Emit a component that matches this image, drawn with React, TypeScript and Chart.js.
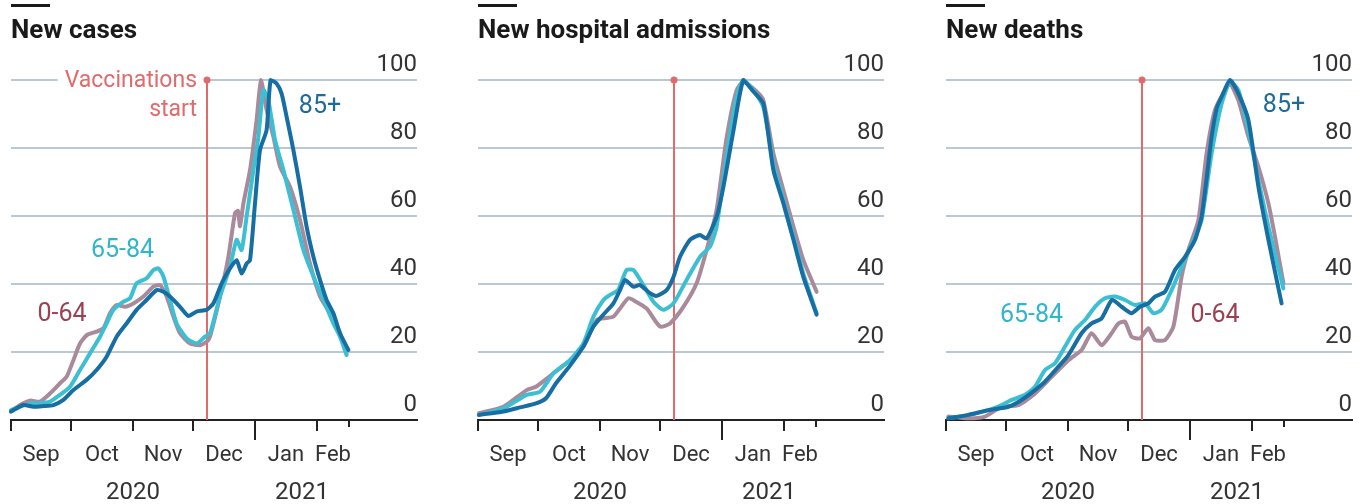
import React, { useEffect, useRef } from "react";
import { Chart, registerables } from "chart.js";

Chart.register(...registerables);

type Pt = [number, number];

// ---------- data (x = days since 1 Sep 2020, y = index, peak = 100) ----------
const panelTitles = ["New cases", "New hospital admissions", "New deaths"];
const seriesNames = ["0-64", "65-84", "85+"];

const monthTickDays = [0, 30, 61, 91, 122, 153];
const dataEndDay = 169;
const monthLabels = ["Sep", "Oct", "Nov", "Dec", "Jan", "Feb"];
const monthLabelDays = [15, 45.5, 76, 106.5, 137.5, 161];
const yearLabels = ["2020", "2021"];
const yearLabelDays = [61, 145.5];
const yearBoundaryDay = 122;
const vaccinationDay = 98;
const yTickValues = [0, 20, 40, 60, 80, 100];

const cases0to64: Pt[] = [
  [0, 2.5], [4.5, 4.4], [9.5, 5.7], [14.5, 5.4], [19.5, 7.8], [24.5, 10.8], [27.8, 12.7],
  [31.2, 17.6], [34.5, 22.5], [38, 25], [42.8, 26], [46.2, 27], [49.5, 31.4], [52.8, 33.8],
  [57, 33.3], [61.2, 34.3], [66.2, 36.3], [71.2, 39.2], [74.5, 39.7], [77.8, 36.3],
  [81.2, 30.4], [84.5, 25.5], [89.5, 22.5], [94.5, 22], [97.8, 23], [99.5, 24.5],
  [104.5, 36.3], [108.7, 48], [112, 60.8], [113.5, 61.5], [114.5, 57], [116.2, 63.7],
  [119.5, 73.5], [122.8, 88.2], [125, 100], [127.8, 91.2], [131.2, 83.3], [134.5, 74.5],
  [139.5, 68.6], [144.5, 58.8], [149.5, 46], [154.5, 36.3], [159.5, 31.4], [164.5, 25.5],
  [167.8, 19.6],
];
const cases65to84: Pt[] = [
  [0, 2.9], [9.5, 4.9], [14.5, 4.9], [19.5, 5.4], [24.5, 7.4], [29.5, 9.8], [34.5, 14.7],
  [39.5, 19.6], [44.5, 24.5], [47.8, 28.4], [51.2, 32.4], [56.2, 34.8], [59.5, 35.8],
  [62.8, 40.2], [67.8, 41.7], [71.2, 44.1], [73.7, 44.6], [76.2, 42.2], [79.5, 35.3],
  [82.8, 28.4], [87.8, 24], [92.8, 22.5], [97, 24.5], [99.5, 25.5], [104.5, 36.3],
  [109.5, 45], [112.8, 53], [115.3, 50], [117.8, 59.8], [121.2, 73.5], [123.7, 83.3],
  [126.2, 97], [128.7, 94], [132, 82.4], [136.2, 73.5], [141.2, 61.8], [146.2, 50],
  [151.2, 42.2], [156.2, 35.3], [161.2, 28.4], [164.5, 24.5], [167.8, 19.1],
];
const cases85plus: Pt[] = [
  [0, 2.5], [6.2, 4.4], [11.2, 3.9], [16.2, 4.1], [21.2, 4.4], [26.2, 5.9], [31.2, 8.8],
  [37.8, 11.8], [42.8, 14.7], [47.8, 18.6], [52.8, 24.5], [57.8, 28.4], [62.8, 32.4],
  [67.8, 35.3], [72.8, 38.2], [76.2, 37.7], [79.5, 36.3], [84.5, 33.3], [88.7, 30.6],
  [92.8, 31.9], [97.8, 32.4], [101.2, 34.3], [104.5, 39], [106.2, 41.2], [109.5, 44.6],
  [112.8, 47], [115.3, 43.1], [117.8, 46], [119.5, 47], [122, 63.7], [124.5, 79.4],
  [127.8, 85.3], [129.8, 100], [132.8, 99], [135.3, 96], [137.8, 89.2], [141.2, 79.4],
  [144.5, 68.6], [147.8, 56.9], [151.2, 48], [154.5, 41.2], [157.8, 35.3], [161.2, 31.4],
  [164.5, 25.5], [168.7, 20.6],
];

const admissions0to64: Pt[] = [
  [0.5, 2], [12.7, 3.9], [24.3, 8.8], [29, 9.8], [37.7, 13.7], [46, 17.6], [52.7, 21.6],
  [59.3, 29.4], [62.7, 29.9], [67.7, 30.4], [71, 32.8], [75.2, 35.8], [79, 34.8],
  [84.3, 32.8], [91, 27.5], [96, 28.4], [102.7, 33.3], [109.3, 40.2], [114.3, 50],
  [119.3, 61.8], [124.3, 83], [129.3, 97], [132.7, 99.5], [139.3, 96.6], [142.7, 94],
  [147.7, 78.4], [152.7, 67.6], [157.7, 56.9], [162.7, 47], [169.3, 37.7],
];
const admissions65to84: Pt[] = [
  [0.5, 1.5], [12.7, 3.4], [24.3, 7.4], [31, 8.3], [37.7, 13.7], [46, 17.6], [52.7, 22.5],
  [57.7, 30.4], [62.7, 35.3], [66, 36.8], [70, 38.2], [74.3, 44.1], [77.7, 44.1],
  [82.7, 39.7], [87.7, 34.8], [92.7, 32.4], [97.7, 34.3], [104.3, 41.2], [111, 48],
  [116, 51], [119.3, 56.9], [124.3, 77.5], [129.3, 95], [132.7, 100], [137.7, 97],
  [142.7, 92], [147.7, 75.5], [152.7, 64.7], [157.7, 54], [162.7, 43], [169.3, 31.4],
];
const admissions85plus: Pt[] = [
  [0.5, 1.5], [12.7, 2.5], [21, 3.7], [29, 4.9], [34, 6.4], [39, 10.8], [46, 16],
  [52.7, 21.6], [57.7, 27.5], [62.7, 31], [67.7, 34.3], [71, 38.2], [73.5, 41.2],
  [77.7, 39.2], [81, 39.7], [86, 37.3], [89.3, 36.5], [94.3, 38.2], [97.7, 42], [101, 48],
  [106, 53], [111, 54.4], [114.3, 53.4], [119.3, 59.8], [122.7, 68.6], [127.7, 85],
  [132.7, 100], [137.7, 96.6], [142.7, 93], [147.7, 73.5], [152.7, 63.7], [157.7, 53],
  [162.7, 42], [169.3, 31],
];

const deaths0to64: Pt[] = [
  [1.2, 1], [11.2, 0.5], [19.5, 1], [27.8, 3.9], [36.2, 4.4], [44.5, 7.8], [52.8, 12.7],
  [61.2, 17.6], [67.8, 20.6], [72.8, 25.5], [77.8, 22], [82.8, 25.5], [86.2, 28.4],
  [89.5, 28.9], [92.8, 24.5], [97, 24], [101.2, 27], [104.5, 23.5], [109.5, 23.5],
  [113.7, 27.5], [117.8, 42.2], [121.2, 50], [126.2, 58.8], [130.3, 78.4], [134.5, 91.2],
  [139.5, 97], [142, 99], [146.2, 94], [151.2, 83.3], [156.2, 74.5], [161.2, 63.7],
  [164.5, 53.9], [168.7, 40.2],
];
const deaths65to84: Pt[] = [
  [1.2, 0.5], [11.2, 1.5], [21.2, 2.9], [27.8, 4.4], [32.8, 5.9], [39.5, 7.4], [44.5, 9.8],
  [49.5, 14.7], [54.5, 16.7], [59.5, 21.6], [64.5, 26.5], [69.5, 29.4], [74.5, 33.3],
  [79.5, 35.8], [84.5, 36.3], [89.5, 35.3], [94.5, 33.8], [99.5, 34.3], [103.7, 31.4],
  [107.8, 32.4], [112.8, 38.2], [117.8, 45], [124.5, 53.9], [127.8, 58.8], [132.8, 78.4],
  [137.8, 93], [142, 99.5], [146.2, 97], [151.2, 85.3], [156.2, 70.6], [161.2, 56.9],
  [168.7, 38.7],
];
const deaths85plus: Pt[] = [
  [1.2, 0.5], [11.2, 1.5], [21.2, 2.9], [31.2, 3.9], [37.8, 5.9], [44.5, 8.8], [49.5, 11.3],
  [56.2, 15.7], [61.2, 19.1], [67.8, 25.5], [72.8, 28.4], [77.8, 29.9], [83, 35.3],
  [87.8, 33.3], [92.8, 31.4], [97, 33.3], [101.2, 34.3], [104.5, 36.3], [109.5, 37.7],
  [114.5, 44.1], [119.5, 48], [124.5, 53], [127.8, 59.8], [130.5, 72], [132.8, 83.3],
  [135.5, 92], [137.8, 95], [142, 100], [146.2, 96], [151.2, 88.2], [156.2, 68.6],
  [161.2, 53], [167.8, 34.3],
];

// ---------- styling ----------
const FONT = "Roboto, 'Noto Sans', sans-serif";
const C064 = "#a98a9b";
const C6584 = "#3dbfd3";
const C85 = "#176ea3";
const T064 = "#9c4053";
const T6584 = "#2fb6cc";
const T85 = "#1d6a9b";
const GRID = "#b8c8d4";
const RED = "#e06b6b";
const AXIS = "#222";
const TEXT = "#333";

type Lbl = { text: string; x: number; y: number; color: string };
type PanelDef = {
  title: string;
  s064: Pt[];
  s6584: Pt[];
  s85: Pt[];
  labels: Lbl[];
  vaccText: boolean;
};

const panels: PanelDef[] = [
  {
    title: panelTitles[0],
    s064: cases0to64,
    s6584: cases65to84,
    s85: cases85plus,
    vaccText: true,
    labels: [
      { text: seriesNames[1], x: 55.75, y: 49.7, color: T6584 },
      { text: seriesNames[0], x: 25.5, y: 30.9, color: T064 },
      { text: seriesNames[2], x: 154.5, y: 92.1, color: T85 },
    ],
  },
  {
    title: panelTitles[1],
    s064: admissions0to64,
    s6584: admissions65to84,
    s85: admissions85plus,
    vaccText: false,
    labels: [],
  },
  {
    title: panelTitles[2],
    s064: deaths0to64,
    s6584: deaths65to84,
    s85: deaths85plus,
    vaccText: false,
    labels: [
      { text: seriesNames[1], x: 42.75, y: 30.6, color: T6584 },
      { text: seriesNames[0], x: 134.5, y: 30.6, color: T064 },
      { text: seriesNames[2], x: 169, y: 92.4, color: T85 },
    ],
  },
];

const PANEL_LEFTS = [0, 467, 935];
const CANVAS_W = 432;
const CANVAS_H = 504;

const decorPlugin = {
  id: "decor",
  beforeDatasetsDraw(chart: any, _args: any, opts: any) {
    const { ctx } = chart;
    const x = chart.scales.x;
    const y = chart.scales.y;
    const vx = Math.round(x.getPixelForValue(vaccinationDay));
    const top = y.getPixelForValue(100);
    const bottom = y.getPixelForValue(0);
    ctx.save();
    if (opts.vaccText) {
      ctx.font = `23px ${FONT}`;
      ctx.textAlign = "right";
      ctx.textBaseline = "alphabetic";
      const w = ctx.measureText("Vaccinations").width;
      ctx.fillStyle = "#fff";
      ctx.fillRect(vx - 10 - w - 7, top - 3, w + 14, 6);
      ctx.fillStyle = RED;
      ctx.fillText("Vaccinations", vx - 10, top + 7);
      ctx.fillText("start", vx - 10, top + 36);
    }
    ctx.strokeStyle = RED;
    ctx.lineWidth = 2;
    ctx.beginPath();
    ctx.moveTo(vx, top);
    ctx.lineTo(vx, bottom);
    ctx.stroke();
    ctx.fillStyle = RED;
    ctx.beginPath();
    ctx.arc(vx, top, 3.5, 0, Math.PI * 2);
    ctx.fill();
    ctx.restore();
  },
  afterDatasetsDraw(chart: any, _args: any, opts: any) {
    const { ctx } = chart;
    const x = chart.scales.x;
    const y = chart.scales.y;
    ctx.save();
    ctx.font = `25px ${FONT}`;
    ctx.textAlign = "center";
    ctx.textBaseline = "middle";
    (opts.labels as Lbl[]).forEach((l) => {
      ctx.fillStyle = l.color;
      ctx.fillText(l.text, x.getPixelForValue(l.x), y.getPixelForValue(l.y));
    });
    ctx.restore();
  },
  afterDraw(chart: any, _args: any, opts: any) {
    const { ctx } = chart;
    const x = chart.scales.x;
    const axisY = chart.chartArea.bottom;
    ctx.save();
    // title bar + title
    ctx.fillStyle = "#1a1a1a";
    ctx.fillRect(11, 4, 39, 3);
    ctx.font = `bold 26px ${FONT}`;
    ctx.textAlign = "left";
    ctx.textBaseline = "alphabetic";
    ctx.fillText(opts.title, 11, 38);
    // long tick at year boundary, short tick at end of data
    ctx.strokeStyle = AXIS;
    ctx.lineWidth = 2;
    const jx = Math.round(x.getPixelForValue(yearBoundaryDay));
    ctx.beginPath();
    ctx.moveTo(jx, axisY);
    ctx.lineTo(jx, axisY + 20);
    ctx.stroke();
    const ex = Math.round(x.getPixelForValue(dataEndDay));
    ctx.beginPath();
    ctx.moveTo(ex, axisY);
    ctx.lineTo(ex, axisY + 7);
    ctx.stroke();
    // month labels
    ctx.fillStyle = TEXT;
    ctx.textAlign = "center";
    ctx.font = `22px ${FONT}`;
    monthLabels.forEach((m, i) => {
      ctx.fillText(m, x.getPixelForValue(monthLabelDays[i]), axisY + 41);
    });
    ctx.font = `24px ${FONT}`;
    yearLabels.forEach((yl, i) => {
      ctx.fillText(yl, x.getPixelForValue(yearLabelDays[i]), axisY + 79);
    });
    ctx.restore();
  },
};

const toXY = (pts: Pt[]) => pts.map(([x, y]) => ({ x, y }));

function buildConfig(p: PanelDef): any {
  const common = {
    borderWidth: 4,
    pointRadius: 0,
    tension: 0.2,
    clip: 8,
    fill: false,
    borderJoinStyle: "round",
    borderCapStyle: "round",
  };
  return {
    type: "line",
    data: {
      datasets: [
        { label: seriesNames[2], data: toXY(p.s85), borderColor: C85, order: 0, ...common },
        { label: seriesNames[1], data: toXY(p.s6584), borderColor: C6584, order: 1, ...common },
        { label: seriesNames[0], data: toXY(p.s064), borderColor: C064, order: 2, ...common },
      ],
    },
    options: {
      animation: false,
      responsive: false,
      devicePixelRatio: 1,
      events: [],
      layout: { padding: { left: 11, right: 15, top: 80, bottom: 0 } },
      plugins: {
        legend: { display: false },
        tooltip: { enabled: false },
        decor: { title: p.title, labels: p.labels, vaccText: p.vaccText },
      },
      scales: {
        x: {
          type: "linear",
          min: 0,
          max: 203,
          afterBuildTicks: (axis: any) => {
            axis.ticks = monthTickDays.map((v) => ({ value: v }));
          },
          afterFit: (axis: any) => {
            axis.height = 84;
          },
          ticks: { display: false },
          grid: {
            display: true,
            drawOnChartArea: false,
            drawTicks: true,
            tickLength: 11,
            tickColor: AXIS,
            tickWidth: 2,
            lineWidth: 2,
            color: AXIS,
          },
          border: { display: true, color: AXIS, width: 2 },
        },
        y: {
          type: "linear",
          position: "right",
          min: 0,
          max: 100,
          afterBuildTicks: (axis: any) => {
            axis.ticks = yTickValues.map((v) => ({ value: v }));
          },
          afterFit: (axis: any) => {
            axis.width = 0;
          },
          ticks: {
            mirror: true,
            padding: 0,
            labelOffset: -15,
            color: TEXT,
            font: { family: FONT, size: 24 },
          },
          grid: {
            drawTicks: false,
            lineWidth: 2,
            color: (c: any) => (c.tick && c.tick.value === 0 ? "rgba(0,0,0,0)" : GRID),
          },
          border: { display: false },
        },
      },
    },
    plugins: [decorPlugin],
  };
}

function Panel({ def, left }: { def: PanelDef; left: number }) {
  const ref = useRef<HTMLCanvasElement>(null);
  useEffect(() => {
    const chart = new Chart(ref.current as HTMLCanvasElement, buildConfig(def));
    return () => chart.destroy();
  }, [def]);
  return (
    <canvas
      ref={ref}
      width={CANVAS_W}
      height={CANVAS_H}
      style={{ position: "absolute", left, top: 0, width: CANVAS_W, height: CANVAS_H, display: "block" }}
    />
  );
}

export default function App() {
  return (
    <div
      style={{
        position: "absolute",
        left: 0,
        top: 0,
        width: 1367,
        height: 504,
        background: "#fff",
        overflow: "hidden",
      }}
    >
      {panels.map((p, i) => (
        <Panel key={i} def={p} left={PANEL_LEFTS[i]} />
      ))}
    </div>
  );
}
